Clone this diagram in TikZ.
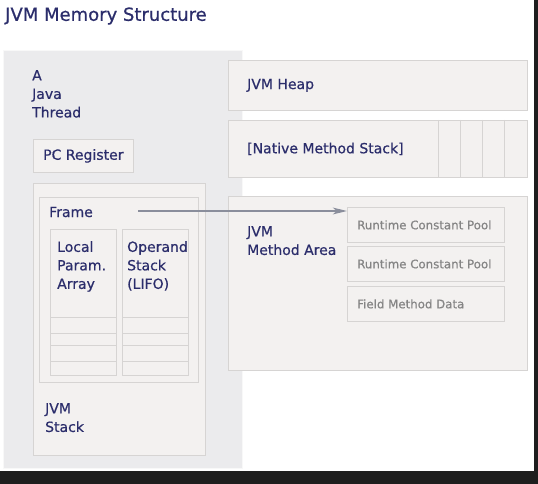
\documentclass[tikz,border=0pt]{standalone}
\usepackage{fontspec}
\setmainfont{DejaVu Sans}
\newfontfamily\boxfont[FakeBold=0.6]{DejaVu Sans}
\usetikzlibrary{arrows.meta, calc}
\definecolor{navy}{HTML}{2B2D6B}
\definecolor{threadfill}{HTML}{EBEBED}
\definecolor{boxfill}{HTML}{F3F1F0}
\definecolor{boxline}{HTML}{D6D4D3}
\definecolor{poolgray}{HTML}{858585}
\definecolor{ptrgray}{HTML}{8A8E9C}
\definecolor{screen}{HTML}{1E1E1E}

\begin{document}
\begin{tikzpicture}[
  x=1pt, y=-1pt,
  box/.style={rectangle, draw=boxline, fill=boxfill, line width=0.8pt,
              anchor=north west, inner sep=0pt},
  threadbox/.style={box, fill=threadfill, draw=threadfill!80!black!10!white},
  lbl/.style={anchor=west, inner sep=0pt, align=left, text=navy,
              font=\boxfont\fontsize{14}{18.5}\selectfont},
  poollbl/.style={lbl, text=poolgray, font=\boxfont\fontsize{11.8}{13}\selectfont},
  ptr/.style={-{Stealth[length=5mm, width=2.4mm, inset=1.4mm]}, line width=1.4pt, color=ptrgray}
]
  \useasboundingbox (0,0) rectangle (538,484);
  \fill[white] (0,0) rectangle (538,484);

  % title
  \node[lbl, font=\boxfont\fontsize{18}{22}\selectfont] (title) at (5,16) {JVM Memory Structure};

  % thread side
  \node[threadbox, minimum width=239, minimum height=418] (thread) at (3,50) {};
  \node[lbl, anchor=north west] (threadlbl) at (32,70) {A\\Java\\Thread};
  \node[box, minimum width=100, minimum height=33] (pc) at (33,139) {};
  \node[lbl] (pclbl) at ([xshift=10pt]pc.west) {PC Register};
  \node[box, minimum width=172, minimum height=272] (stack) at (33,183) {};
  \node[lbl, anchor=north west] (stacklbl) at (45,403) {JVM\\Stack};
  \node[box, minimum width=159, minimum height=185] (frame) at (39,197) {};
  \node[lbl] (framelbl) at (49,212) {Frame};

  % local variables and operand stack
  \node[box, minimum width=66, minimum height=146] (locals) at (50,229) {};
  \node[box, minimum width=66, minimum height=146] (operand) at (122,229) {};
  \foreach \col in {locals, operand}
    \foreach \yy in {317, 333, 345, 361}
      \draw[boxline, line width=0.8pt] (\col.west |- 0,\yy) -- (\col.east |- 0,\yy);
  \node[lbl, anchor=north west] (localslbl) at (57,241) {Local\\Param.\\Array};
  \node[lbl, anchor=north west] (operandlbl) at (127,241) {Operand\\Stack\\(LIFO)};

  % shared areas
  \node[box, minimum width=299, minimum height=50] (heap) at (228,60) {};
  \node[lbl] (heaplbl) at ([xshift=19pt]heap.west) {JVM Heap};
  \node[box, minimum width=299, minimum height=57] (native) at (228,120) {};
  \foreach \xx in {438, 460, 482, 504}
    \draw[boxline, line width=0.8pt] (\xx,0 |- native.north) -- (\xx,0 |- native.south);
  \node[lbl] (nativelbl) at ([xshift=19pt]native.west) {[Native Method Stack]};
  \node[box, minimum width=299, minimum height=174] (method) at (228,196) {};
  \node[lbl, anchor=north west] (methodlbl) at (247,226) {JVM\\Method Area};

  \node[box, minimum width=157, minimum height=35] (pool1) at (347,207) {};
  \node[box, minimum width=157, minimum height=35] (pool2) at (347,246) {};
  \node[box, minimum width=157, minimum height=35] (fields) at (347,286) {};
  \node[poollbl] (pool1lbl) at ([xshift=10pt]pool1.west) {Runtime Constant Pool};
  \node[poollbl] (pool2lbl) at ([xshift=10pt]pool2.west) {Runtime Constant Pool};
  \node[poollbl] (fieldslbl) at ([xshift=10pt]fields.west) {Field Method Data};

  % frame pointer into method area
  \coordinate (frameptr) at (138,211);
  \draw[ptr] (frameptr) -- (frameptr -| pool1.west);

  % screen edges
  \fill[screen] (0,471) rectangle (538,484);
  \fill[screen] (534,0) rectangle (538,484);
\end{tikzpicture}
\end{document}
